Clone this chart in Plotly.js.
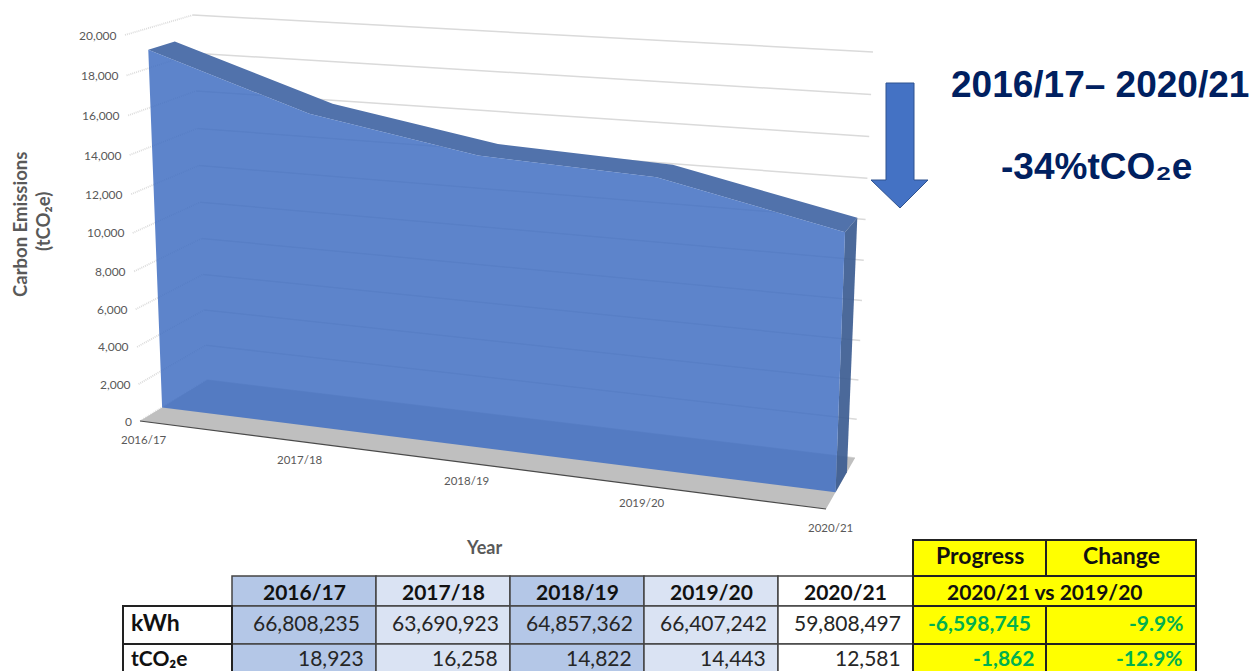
<!DOCTYPE html>
<html>
<head>
<meta charset="utf-8">
<script src="https://cdn.plot.ly/plotly-3.0.1.min.js"></script>
<style>html,body{margin:0;padding:0;background:#fff;overflow:hidden}</style>
</head>
<body>
<div id="chart" style="width:1255px;height:671px"></div>
<script>
// ---- data ----
const categories = ['2016/17','2017/18','2018/19','2019/20','2020/21'];
const tco2e = [18923,16258,14822,14443,12581];
const kwh = [66808235,63690923,64857362,66407242,59808497];
const yTicks = [0,2000,4000,6000,8000,10000,12000,14000,16000,18000,20000];
const progressKwh = '-6,598,745';
const progressCo2 = '-1,862';
const changeKwh = '-9.9%';
const changeCo2 = '-12.9%';
const yMax = 20000;

// ---- fake-3D scale: category / value / depth to page position ----
const corners = {
  fb0:[140,421], fb1:[826,509], bb0:[207,380], bb1:[855,458],
  ft0:[125,35],  ft1:[840,80],  bt0:[193,15],  bt1:[873,52]
};
const persp = 0.886, perspH = 0.95, dFront = 0.33, dBack = 0.72;
function lerp(a,b,t){return [a[0]+(b[0]-a[0])*t, a[1]+(b[1]-a[1])*t];}
function project(i,v,d){
  const u0 = i/(categories.length-1);
  const u = u0*persp/(1+(persp-1)*u0);
  const h0 = v/yMax;
  const h = h0*perspH/(1+(perspH-1)*h0);
  const fb = lerp(corners.fb0,corners.fb1,u), bb = lerp(corners.bb0,corners.bb1,u);
  const ft = lerp(corners.ft0,corners.ft1,u), bt = lerp(corners.bt0,corners.bt1,u);
  return lerp(lerp(fb,bb,d), lerp(ft,bt,d), h);
}
function poly(pts,fill,extra){
  return Object.assign({type:'scatter',mode:'lines',x:pts.map(p=>p[0]),y:pts.map(p=>p[1]),
    fill:'toself',fillcolor:fill,line:{width:0},hoverinfo:'skip',showlegend:false},extra||{});
}
function line(pts,color,width,dash){
  return {type:'scatter',mode:'lines',x:pts.map(p=>p?p[0]:null),y:pts.map(p=>p?p[1]:null),
    line:{color:color,width:width,dash:dash||'solid'},hoverinfo:'skip',showlegend:false,connectgaps:false};
}
const last = categories.length-1;
const idx = categories.map((_,i)=>i);
const traces = [];

// walls
let gridPts = [], stubPts = [];
yTicks.forEach(t=>{
  gridPts.push(project(0,t,1),project(last,t,1),null);
  stubPts.push(project(0,t,0),project(0,t,1),null);
});
traces.push(line(gridPts,'#dadada',1.5));
traces.push(line(stubPts,'#dcdcdc',1.8,'1px,1px'));
// floor
traces.push(poly([project(0,0,0),project(last,0,0),project(last,0,1),project(0,0,1)],'#bfbfbf'));
traces.push(line([project(0,0,0),project(last,0,0)],'#4a4a4a',1.2));
// ridge (top surface) and right side
const frontTop = idx.map(i=>project(i,tco2e[i],dFront));
const backTop = idx.map(i=>project(i,tco2e[i],dBack));
traces.push(poly(frontTop.concat(backTop.slice().reverse()),'#5172ab'));
traces.push(poly([project(last,tco2e[last],dFront),project(last,tco2e[last],dBack),
                  project(last,0,dBack),project(last,0,dFront)],'rgba(60,92,145,0.92)'));
// front face
traces.push(poly(frontTop.concat([project(last,0,dFront),project(0,0,dFront)]),'rgba(65,111,194,0.85)'));

// axis text
const ann = [];
function text(x,y,t,size,color,opt){
  ann.push(Object.assign({x:x,y:y,xref:'x',yref:'y',text:t,showarrow:false,
    font:{family:'Lato, sans-serif',size:size,color:color},xanchor:'center',yanchor:'middle'},opt||{}));
}
yTicks.forEach(t=>{
  const p = project(0,t,0);
  text(p[0]-6,p[1],t.toLocaleString('en-US'),12,'#595959',{xanchor:'right'});
});
categories.forEach((c,i)=>{
  const p = project(i,0,0);
  text(p[0]+4,p[1]+18,c,11.5,'#595959');
});
const axisBold = {family:'Lato, sans-serif',size:18.5,color:'#595959',weight:700};
text(20,225,'Carbon Emissions',18.5,'#595959',{textangle:-90,font:axisBold});
text(43,222,'(tCO₂e)',18.5,'#595959',{textangle:-90,font:axisBold});
text(484,547,'Year',18,'#595959',{font:{family:'Lato, sans-serif',size:18,color:'#595959',weight:700}});
const big = {family:'Liberation Sans, Arial, sans-serif',size:37,color:'#002060',weight:700};
text(1100,84,'2016/17– 2020/21',37,'#002060',{font:big});
text(1096,166,'-34%tCO₂e',37,'#002060',{font:big});

// table
const colX = [123,232,376,510,644,778,913,1046,1196];
const rowY = [540,576,606,644,690];
const colFill = ['#b4c7e7','#dae3f3','#b4c7e7','#dae3f3','#ffffff'];
const shapes = [];
function cell(x0,x1,y0,y1,fill,border,w){
  shapes.push({type:'rect',xref:'x',yref:'y',x0:x0,x1:x1,y0:y0,y1:y1,fillcolor:fill,line:{color:border,width:w},layer:'below'});
}
const tf = {family:'Lato, sans-serif',size:21,color:'#111111',weight:700};
const hf = {family:'Lato, sans-serif',size:23,color:'#111111',weight:700};
const nf = {family:'Lato, sans-serif',size:21,color:'#262626'};
const gf = {family:'Lato, sans-serif',size:21,color:'#00b050',weight:700};
const yKwh = (rowY[2]+rowY[3])/2-3, yCo2 = (rowY[3]+671)/2;
categories.forEach((c,i)=>{
  const x0=colX[i+1],x1=colX[i+2];
  cell(x0,x1,rowY[1],rowY[2],colFill[i],'#444',1.5);
  cell(x0,x1,rowY[2],rowY[3],colFill[i],'#444',1.5);
  cell(x0,x1,rowY[3],rowY[4],colFill[i],'#444',1.5);
  text((x0+x1)/2,(rowY[1]+rowY[2])/2,c,21,'#111',{font:tf});
  text((x0+x1)/2+2,yKwh,kwh[i].toLocaleString('en-US'),21,'#262626',{font:nf});
  text(x1-10,yCo2,tco2e[i].toLocaleString('en-US'),21,'#262626',{font:nf,xanchor:'right'});
});
cell(colX[0],colX[1],rowY[2],rowY[3],'#fff','#222',2);
cell(colX[0],colX[1],rowY[3],rowY[4],'#fff','#222',2);
text(colX[0]+6,yKwh,'kWh',23,'#111',{font:hf,xanchor:'left'});
text(colX[0]+6,yCo2,'tCO₂e',21,'#111',{font:tf,xanchor:'left'});
const yel='#ffff00', blk='#222';
cell(colX[6],colX[7],rowY[0],rowY[1],yel,blk,2);
cell(colX[7],colX[8],rowY[0],rowY[1],yel,blk,2);
cell(colX[6],colX[8],rowY[1],rowY[2],yel,blk,2);
cell(colX[6],colX[7],rowY[2],rowY[3],yel,blk,2);
cell(colX[7],colX[8],rowY[2],rowY[3],yel,blk,2);
cell(colX[6],colX[7],rowY[3],rowY[4],yel,blk,2);
cell(colX[7],colX[8],rowY[3],rowY[4],yel,blk,2);
text((colX[6]+colX[7])/2,(rowY[0]+rowY[1])/2-3,'Progress',23,'#111',{font:hf});
text((colX[7]+colX[8])/2,(rowY[0]+rowY[1])/2-3,'Change',23,'#111',{font:hf});
text((colX[6]+colX[8])/2-10,(rowY[1]+rowY[2])/2,categories[4]+' vs '+categories[3],21,'#111',{font:tf});
text(colX[7]-13,yKwh,progressKwh,21,'#00b050',{font:gf,xanchor:'right'});
text(colX[8]-11,yKwh,changeKwh,21,'#00b050',{font:gf,xanchor:'right'});
text(colX[7]-10,yCo2,progressCo2,21,'#00b050',{font:gf,xanchor:'right'});
text(colX[8]-11,yCo2,changeCo2,21,'#00b050',{font:gf,xanchor:'right'});

// arrow
shapes.push({type:'path',xref:'x',yref:'y',layer:'above',
  path:'M886,83 L914,83 L914,180 L928,180 L900,208 L871,180 L886,180 Z',
  fillcolor:'#4472c4',line:{color:'#2f528f',width:1}});

Plotly.newPlot('chart',traces,{
  width:1255,height:671,margin:{l:0,r:0,t:0,b:0},
  paper_bgcolor:'#fff',plot_bgcolor:'#fff',showlegend:false,
  xaxis:{range:[0,1255],visible:false,fixedrange:true},
  yaxis:{range:[671,0],visible:false,fixedrange:true},
  shapes:shapes,annotations:ann
},{displayModeBar:false,staticPlot:true});
</script>
</body>
</html>
